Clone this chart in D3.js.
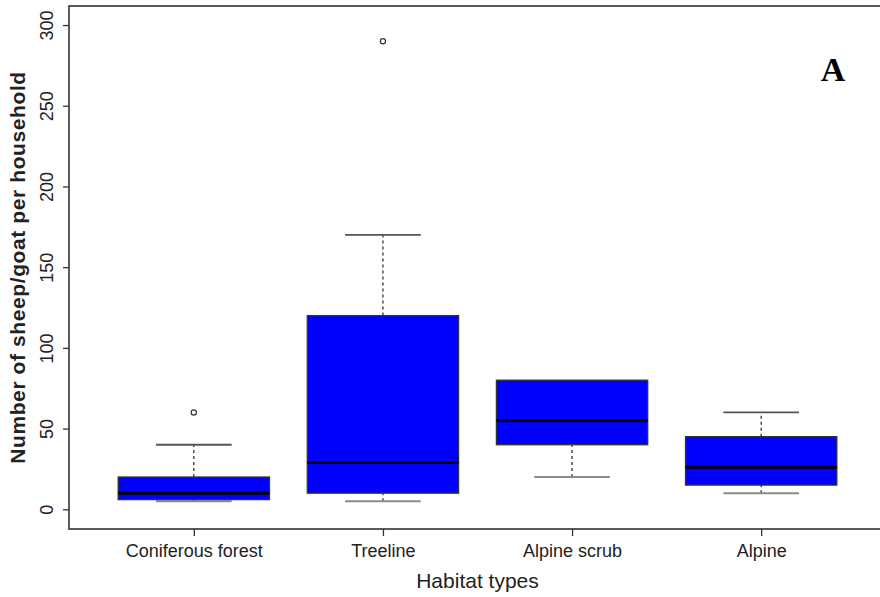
<!DOCTYPE html>
<html>
<head>
<meta charset="utf-8">
<script src="https://cdn.jsdelivr.net/npm/d3@7"></script>
<style>
  body { margin: 0; background: #fff; }
  svg { display: block; font-family: "Liberation Sans", Arial, sans-serif; }
</style>
</head>
<body>
<div id="chart"></div>
<script>
// values
const categories = ["Coniferous forest", "Treeline", "Alpine scrub", "Alpine"];
const whiskerLow = [5, 5, 20, 10];
const q1 = [6, 10, 40, 15];
const medians = [10, 29, 55, 26];
const q3 = [20, 120, 80, 45];
const whiskerHigh = [40, 170, 80, 60];
const outliers = [[60], [290], [], []];
const yTicks = [0, 50, 100, 150, 200, 250, 300];

const width = 880, height = 597;
const frame = {left: 69, right: 886, top: 6, bottom: 529};

const svg = d3.select("#chart").append("svg")
    .attr("width", width)
    .attr("height", height);

const x = d3.scaleLinear()
    .domain([0.34, 4.66])
    .range([frame.left, frame.right]);

const y = d3.scaleLinear()
    .domain([-12.2, 311.8])
    .range([frame.bottom, frame.top]);

const boxes = categories.map((c, i) => ({
  name: c, pos: i + 1,
  lo: whiskerLow[i], q1: q1[i], med: medians[i], q3: q3[i], hi: whiskerHigh[i],
  out: outliers[i]
}));

const boxW = 0.4, capW = 0.2;

const g = svg.append("g");

// dashed whiskers
g.selectAll(".wl").data(boxes).join("line")
    .attr("x1", d => x(d.pos)).attr("x2", d => x(d.pos))
    .attr("y1", d => y(d.lo)).attr("y2", d => y(d.q1))
    .attr("stroke", "#222").attr("stroke-width", 1.2).attr("stroke-dasharray", "3,3");
g.selectAll(".wh").data(boxes).join("line")
    .attr("x1", d => x(d.pos)).attr("x2", d => x(d.pos))
    .attr("y1", d => y(d.q3)).attr("y2", d => y(d.hi))
    .attr("stroke", "#222").attr("stroke-width", 1.2).attr("stroke-dasharray", "3,3");

// whisker caps
g.selectAll(".capLo").data(boxes).join("line")
    .attr("x1", d => x(d.pos - capW)).attr("x2", d => x(d.pos + capW))
    .attr("y1", d => y(d.lo)).attr("y2", d => y(d.lo))
    .attr("stroke", "#8a8a8a").attr("stroke-width", 2);
g.selectAll(".capHi").data(boxes).join("line")
    .attr("x1", d => x(d.pos - capW)).attr("x2", d => x(d.pos + capW))
    .attr("y1", d => y(d.hi)).attr("y2", d => y(d.hi))
    .attr("stroke", d => d.hi === d.q3 ? "none" : "#555").attr("stroke-width", 1.8);

// boxes
g.selectAll(".box").data(boxes).join("rect")
    .attr("x", d => x(d.pos - boxW))
    .attr("width", d => x(d.pos + boxW) - x(d.pos - boxW))
    .attr("y", d => y(d.q3))
    .attr("height", d => y(d.q1) - y(d.q3))
    .attr("fill", "#0000ff")
    .attr("stroke", "#333").attr("stroke-width", 1.3);

// medians
g.selectAll(".med").data(boxes).join("line")
    .attr("x1", d => x(d.pos - boxW)).attr("x2", d => x(d.pos + boxW))
    .attr("y1", d => y(d.med)).attr("y2", d => y(d.med))
    .attr("stroke", "#000").attr("stroke-width", 3);

// outliers
const outPts = boxes.flatMap(d => d.out.map(v => ({pos: d.pos, v})));
g.selectAll(".out").data(outPts).join("circle")
    .attr("cx", d => x(d.pos)).attr("cy", d => y(d.v))
    .attr("r", 2.6)
    .attr("fill", "none").attr("stroke", "#333").attr("stroke-width", 1.2);

// frame
svg.append("rect")
    .attr("x", frame.left).attr("y", frame.top)
    .attr("width", frame.right - frame.left)
    .attr("height", frame.bottom - frame.top)
    .attr("fill", "none").attr("stroke", "#333").attr("stroke-width", 1.6);

// y axis
const yAxis = svg.append("g")
    .attr("transform", `translate(${frame.left},0)`)
    .call(d3.axisLeft(y).tickValues(yTicks).tickSize(6).tickPadding(0));
yAxis.select(".domain").remove();
yAxis.selectAll("line").attr("stroke", "#333").attr("stroke-width", 1.3);
yAxis.selectAll("text")
    .attr("x", 0).attr("dy", null)
    .attr("transform", "translate(-16,0) rotate(-90)")
    .attr("text-anchor", "middle")
    .attr("fill", "#222")
    .style("font-size", "18px");

// x axis
const xAxis = svg.append("g")
    .attr("transform", `translate(0,${frame.bottom})`)
    .call(d3.axisBottom(x).tickValues([1, 2, 3, 4]).tickFormat((d, i) => categories[i]).tickSize(7).tickPadding(8));
xAxis.select(".domain").remove();
xAxis.selectAll("line").attr("stroke", "#333").attr("stroke-width", 1.3);
xAxis.selectAll("text")
    .attr("fill", "#222")
    .style("font-size", "18px");

// axis titles
svg.append("text")
    .attr("x", (frame.left + frame.right) / 2)
    .attr("y", 588)
    .attr("text-anchor", "middle")
    .attr("fill", "#222")
    .style("font-size", "21px")
    .text("Habitat types");

svg.append("text")
    .attr("transform", `translate(24.5,${(frame.top + frame.bottom) / 2}) rotate(-90)`)
    .attr("text-anchor", "middle")
    .attr("fill", "#222")
    .style("font-size", "21px")
    .style("font-weight", "bold")
    .style("letter-spacing", "0.6px")
    .text("Number of sheep/goat per household");

// panel letter
svg.append("text")
    .attr("x", 833).attr("y", 81)
    .attr("text-anchor", "middle")
    .style("font-family", "'Liberation Serif', 'Times New Roman', serif")
    .style("font-weight", "bold")
    .style("font-size", "34px")
    .text("A");
</script>
</body>
</html>
